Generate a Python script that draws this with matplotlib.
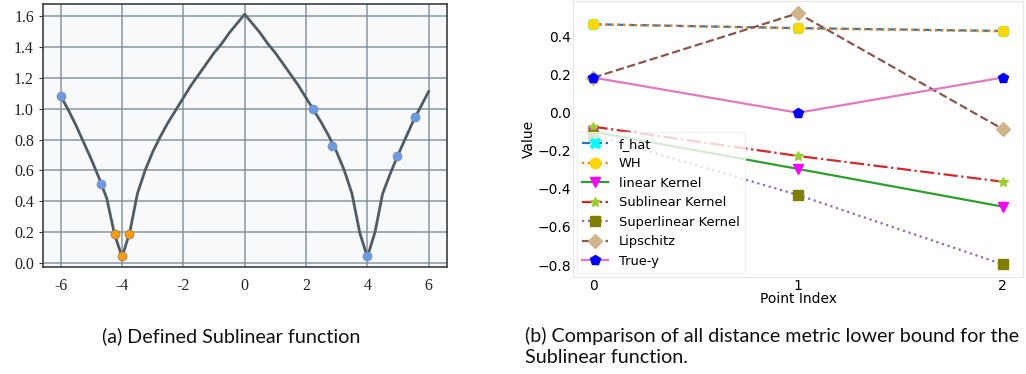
import matplotlib
matplotlib.use("Agg")
import matplotlib.pyplot as plt

# --- (a) sublinear function ---
curve_x = [-6.0, -5.75, -5.5, -5.25, -5.0, -4.75, -4.5, -4.25, -4.0,
           -3.75, -3.5, -3.25, -3.0, -2.75, -2.5, -2.25, -2.0, -1.75, -1.5, -1.25,
           -1.0, -0.75, -0.5, -0.25, 0.0, 0.25, 0.5, 0.75, 1.0, 1.25, 1.5, 1.75,
           2.0, 2.25, 2.5, 2.75, 3.0, 3.25, 3.5, 3.75, 4.0,
           4.25, 4.5, 4.75, 5.0, 5.25, 5.5, 5.75, 6.0]
curve_y = [1.08, 0.99, 0.89, 0.78, 0.67, 0.55, 0.42, 0.19, 0.04,
           0.20, 0.45, 0.60, 0.72, 0.82, 0.91, 0.99, 1.07, 1.15, 1.22, 1.29,
           1.36, 1.42, 1.49, 1.55, 1.61, 1.55, 1.49, 1.42, 1.36, 1.29, 1.22, 1.15,
           1.07, 0.99, 0.91, 0.82, 0.72, 0.60, 0.45, 0.20, 0.04,
           0.20, 0.45, 0.58, 0.70, 0.81, 0.92, 1.015, 1.11]

blue_x = [-6.0, -4.68, 2.24, 2.84, 4.0, 4.98, 5.56]
blue_y = [1.08, 0.515, 0.997, 0.76, 0.047, 0.694, 0.943]
orange_x = [-4.23, -4.0, -3.77]
orange_y = [0.19, 0.047, 0.19]

# --- (b) lower bounds comparison ---
idx = [0, 1, 2]
f_hat = [0.465, 0.445, 0.430]
wh = [0.465, 0.443, 0.428]
linear_k = [-0.100, -0.295, -0.493]
sublinear_k = [-0.073, -0.227, -0.362]
superlinear_k = [-0.117, -0.432, -0.796]
lipschitz = [0.185, 0.523, -0.085]
true_y = [0.185, 0.0, 0.185]

W, H = 1026, 374
fig = plt.figure(figsize=(W / 100, H / 100), dpi=100)

# left panel
ax1 = fig.add_axes([43 / W, 1 - 267 / H, (447 - 43) / W, (267 - 4) / H])
ax1.set_facecolor("#f7f9fa")
ax1.plot(curve_x, curve_y, color="#4f5c66", lw=2.0, zorder=3)
ax1.plot(blue_x, blue_y, "o", color="#6a9be8", mec="#7f8c99", mew=0.5, ms=6.5, zorder=4)
ax1.plot(orange_x, orange_y, "o", color="#ff9a0a", mec="#8a7a60", mew=0.5, ms=6.5, zorder=4)
ax1.set_xlim(-6.58, 6.6)
ax1.set_ylim(-0.024, 1.676)
ax1.set_xticks([-6, -4, -2, 0, 2, 4, 6])
ax1.set_xticklabels(["-6", "-4", "-2", "0", "2", "4", "6"])
ax1.set_yticks([0.0, 0.2, 0.4, 0.6, 0.8, 1.0, 1.2, 1.4, 1.6])
ax1.grid(True, color="#7d8c99", lw=1.1, alpha=0.9)
ax1.set_axisbelow(True)
for s in ax1.spines.values():
    s.set_color("#3a3f44")
    s.set_linewidth(1.2)
ax1.tick_params(axis="y", length=3, color="#3a3f44")
ax1.tick_params(axis="x", length=0, pad=8)
for lab in ax1.get_xticklabels() + ax1.get_yticklabels():
    lab.set_fontfamily("Liberation Serif")
    lab.set_fontsize(11.5)
    lab.set_color("#222222")

# right panel
ax2 = fig.add_axes([573 / W, 1 - 277 / H, (1023 - 573) / W, (277 - 0.7) / H])
ms = 7.5
ax2.plot(idx, f_hat, "--", color="tab:blue", marker="X", mfc="cyan", mec="cyan", ms=ms, lw=1.6, label="f_hat")
ax2.plot(idx, wh, ":", color="tab:orange", marker="o", mfc="gold", mec="gold", ms=ms, lw=1.6, label="WH")
ax2.plot(idx, linear_k, "-", color="tab:green", marker="v", mfc="magenta", mec="magenta", ms=ms, lw=1.6, label="linear Kernel")
ax2.plot(idx, sublinear_k, "-.", color="tab:red", marker="*", mfc="yellowgreen", mec="yellowgreen", ms=ms, lw=1.6, label="Sublinear Kernel")
ax2.plot(idx, superlinear_k, ":", color="tab:purple", marker="s", mfc="olive", mec="olive", ms=ms, lw=1.6, label="Superlinear Kernel")
ax2.plot(idx, lipschitz, "--", color="tab:brown", marker="D", mfc="tan", mec="tan", ms=ms, lw=1.6, label="Lipschitz")
ax2.plot(idx, true_y, "-", color="tab:pink", marker="p", mfc="blue", mec="blue", ms=ms, lw=1.6, label="True-y")
ax2.set_xlim(-0.1, 2.1)
ax2.set_ylim(-0.863, 0.589)
ax2.set_xticks(idx)
ax2.set_yticks([-0.8, -0.6, -0.4, -0.2, 0.0, 0.2, 0.4])
ax2.tick_params(length=0, labelsize=10, pad=1.5)
ax2.set_xlabel("Point Index", fontsize=10, labelpad=-1)
ax2.set_ylabel("Value", fontsize=10, labelpad=1)
for s in ax2.spines.values():
    s.set_color("#e6e6e6")
ax2.legend(loc="lower left", fontsize=9.4, frameon=True, framealpha=0.8,
           edgecolor="#eeeeee", borderaxespad=0.3, handletextpad=0.8, labelspacing=0.5)

# captions
cap_font = ["Lato", "DejaVu Sans"]
fig.text(102 / W, 1 - 342 / H, "(a) Defined Sublinear function", family=cap_font,
         fontsize=14.2, color="#111111", va="baseline")
fig.text(525 / W, 1 - 342 / H, "(b) Comparison of all distance metric lower bound for the",
         family=cap_font, fontsize=14.2, color="#111111", va="baseline")
fig.text(525 / W, 1 - 363 / H, "Sublinear function.", family=cap_font,
         fontsize=14.2, color="#111111", va="baseline")

fig.savefig("out.png", dpi=100)
